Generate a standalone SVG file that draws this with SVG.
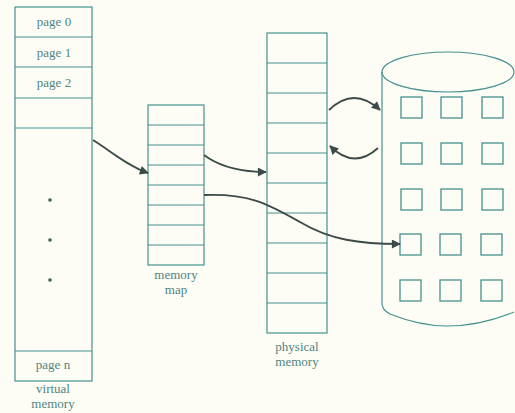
<svg xmlns="http://www.w3.org/2000/svg" width="515" height="413" viewBox="0 0 515 413">
<defs>
<style>
.box{fill:none;stroke:#45918d;stroke-width:1.2}
.ln{stroke:#45918d;stroke-width:1.1}
.sq{fill:none;stroke:#45918d;stroke-width:1.3}
.t{font-family:"Liberation Serif",serif;font-size:13px;fill:#4f8582;text-anchor:middle}
.arr{fill:none;stroke:#3c4b4a;stroke-width:1.8;marker-end:url(#ah)}
.dot{fill:#3f5e5c}
</style>
<marker id="ah" viewBox="0 0 10 10" refX="9" refY="5" markerWidth="10" markerHeight="9" orient="auto" markerUnits="userSpaceOnUse">
<path d="M0,0 L10,5 L0,10 Z" fill="#3c4b4a"/>
</marker>
</defs>
<rect width="515" height="413" fill="#fdfcf5"/>
<g id="virtual-memory">
<rect class="box" x="15" y="7" width="77" height="374"/>
<line class="ln" x1="15" y1="37" x2="92" y2="37"/>
<line class="ln" x1="15" y1="67" x2="92" y2="67"/>
<line class="ln" x1="15" y1="98" x2="92" y2="98"/>
<line class="ln" x1="15" y1="128" x2="92" y2="128"/>
<line class="ln" x1="15" y1="351" x2="92" y2="351"/>
<text class="t" x="54" y="26">page 0</text>
<text class="t" x="54" y="57">page 1</text>
<text class="t" x="54" y="87">page 2</text>
<text class="t" x="53" y="369">page n</text>
<circle class="dot" cx="50" cy="200" r="1.8"/>
<circle class="dot" cx="50" cy="240" r="1.8"/>
<circle class="dot" cx="50" cy="280" r="1.8"/>
<text class="t" x="53" y="393">virtual</text>
<text class="t" x="53" y="408">memory</text>
</g>
<g id="memory-map">
<rect class="box" x="148" y="105" width="56" height="160"/>
<line class="ln" x1="148" y1="125" x2="204" y2="125"/>
<line class="ln" x1="148" y1="145" x2="204" y2="145"/>
<line class="ln" x1="148" y1="165" x2="204" y2="165"/>
<line class="ln" x1="148" y1="185" x2="204" y2="185"/>
<line class="ln" x1="148" y1="205" x2="204" y2="205"/>
<line class="ln" x1="148" y1="225" x2="204" y2="225"/>
<line class="ln" x1="148" y1="245" x2="204" y2="245"/>
<text class="t" x="176" y="279">memory</text>
<text class="t" x="176" y="294">map</text>
</g>
<g id="physical-memory">
<rect class="box" x="267" y="33" width="60" height="300"/>
<line class="ln" x1="267" y1="63" x2="327" y2="63"/>
<line class="ln" x1="267" y1="93" x2="327" y2="93"/>
<line class="ln" x1="267" y1="123" x2="327" y2="123"/>
<line class="ln" x1="267" y1="153" x2="327" y2="153"/>
<line class="ln" x1="267" y1="183" x2="327" y2="183"/>
<line class="ln" x1="267" y1="213" x2="327" y2="213"/>
<line class="ln" x1="267" y1="243" x2="327" y2="243"/>
<line class="ln" x1="267" y1="273" x2="327" y2="273"/>
<line class="ln" x1="267" y1="303" x2="327" y2="303"/>
<text class="t" x="297" y="351">physical</text>
<text class="t" x="297" y="366">memory</text>
</g>
<g id="disk">
<path class="box" d="M382,72 L382,303 Q382,310 390,314 Q420,326 447,326 Q480,326 514,312"/>
<ellipse class="box" cx="448" cy="72" rx="66" ry="20"/>
<rect class="sq" x="401" y="97" width="21" height="21"/>
<rect class="sq" x="441" y="97" width="21" height="21"/>
<rect class="sq" x="482" y="97" width="21" height="21"/>
<rect class="sq" x="401" y="143" width="21" height="21"/>
<rect class="sq" x="441" y="143" width="21" height="21"/>
<rect class="sq" x="482" y="143" width="21" height="21"/>
<rect class="sq" x="401" y="189" width="21" height="21"/>
<rect class="sq" x="441" y="189" width="21" height="21"/>
<rect class="sq" x="482" y="189" width="21" height="21"/>
<rect class="sq" x="400" y="234" width="21" height="21"/>
<rect class="sq" x="440" y="234" width="21" height="21"/>
<rect class="sq" x="481" y="234" width="21" height="21"/>
<rect class="sq" x="400" y="280" width="21" height="21"/>
<rect class="sq" x="440" y="280" width="21" height="21"/>
<rect class="sq" x="481" y="280" width="21" height="21"/>
</g>
<g id="connectors">
<path class="arr" d="M93,140 C112,152 128,166 148,173"/>
<path class="arr" d="M204,155 C220,167 240,172 266,172"/>
<path class="arr" d="M204,195 C250,193 270,205 300,222 C330,240 360,244 400,244"/>
<path class="arr" d="M329,110 Q354,86 380,110"/>
<path class="arr" d="M378,148 Q354,170 330,146"/>
</g>
</svg>
